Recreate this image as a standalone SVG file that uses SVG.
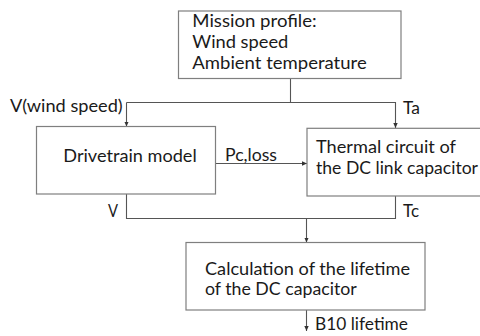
<svg xmlns="http://www.w3.org/2000/svg" width="480" height="336" viewBox="0 0 480 336">
<defs>
<marker id="ah" markerWidth="6" markerHeight="6" refX="5" refY="3" orient="auto" markerUnits="userSpaceOnUse">
<path d="M0,0.8 L5,3 L0,5.2 Z" fill="#333"/>
</marker>
<style>
.box{fill:#fff;stroke:#7f7f7f;stroke-width:1.2}
.ln{fill:none;stroke:#555;stroke-width:1.1}
.t{font-family:Lato,"Open Sans",sans-serif;font-size:17px;fill:#1a1a1a}
</style>
</defs>
<rect width="480" height="336" fill="#fff"/>
<g id="connectors">
<path class="ln" d="M290.5,78.5 V102.5"/>
<path class="ln" d="M126.5,102.5 H395.5 V128" marker-end="url(#ah)"/>
<path class="ln" d="M126.5,102.5 V126.5" marker-end="url(#ah)"/>
<path class="ln" d="M215.5,163.5 H307" marker-end="url(#ah)"/>
<path class="ln" d="M126.5,194 V218.5 H395.5 V196"/>
<path class="ln" d="M306.5,218.5 V242.5" marker-end="url(#ah)"/>
<path class="ln" d="M306.5,310 V331" marker-end="url(#ah)"/>
</g>
<g id="mission">
<rect class="box" x="178.5" y="11" width="222.5" height="67.5"/>
<text class="t" x="192.3" y="27.3" textLength="124.4" lengthAdjust="spacingAndGlyphs">Mission profile:</text>
<text class="t" x="192.3" y="48" textLength="96" lengthAdjust="spacingAndGlyphs">Wind speed</text>
<text class="t" x="192.3" y="69.3" textLength="174.4" lengthAdjust="spacingAndGlyphs">Ambient temperature</text>
</g>
<g id="drivetrain">
<rect class="box" x="36.5" y="126.5" width="179" height="67.5"/>
<text class="t" x="63.3" y="161.7" textLength="133.4" lengthAdjust="spacingAndGlyphs">Drivetrain model</text>
</g>
<g id="thermal">
<rect class="box" x="307" y="128.3" width="176" height="67.7"/>
<text class="t" x="316" y="153.3" textLength="140" lengthAdjust="spacingAndGlyphs">Thermal circuit of</text>
<text class="t" x="316" y="174.3" textLength="162" lengthAdjust="spacingAndGlyphs">the DC link capacitor</text>
</g>
<g id="calc">
<rect class="box" x="186" y="242.5" width="239" height="67.5"/>
<text class="t" x="205" y="274.5" textLength="205" lengthAdjust="spacingAndGlyphs">Calculation of the lifetime</text>
<text class="t" x="205" y="295" textLength="151.7" lengthAdjust="spacingAndGlyphs">of the DC capacitor</text>
</g>
<g id="labels">
<text class="t" x="10" y="112" textLength="112.7" lengthAdjust="spacingAndGlyphs">V(wind speed)</text>
<text class="t" x="403" y="114" textLength="17" lengthAdjust="spacingAndGlyphs">Ta</text>
<text class="t" x="225" y="160.7" textLength="52" lengthAdjust="spacingAndGlyphs">Pc,loss</text>
<text class="t" x="108" y="217" textLength="10" lengthAdjust="spacingAndGlyphs">V</text>
<text class="t" x="403" y="217" textLength="16" lengthAdjust="spacingAndGlyphs">Tc</text>
<text class="t" x="315" y="330" textLength="93" lengthAdjust="spacingAndGlyphs">B10 lifetime</text>
</g>
</svg>
